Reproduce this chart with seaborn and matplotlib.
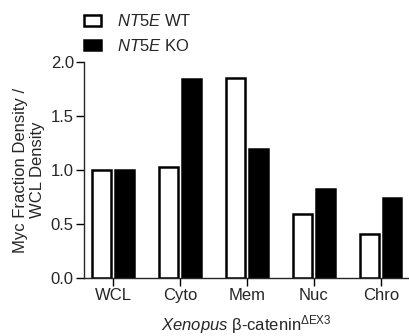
import matplotlib
matplotlib.use("Agg")
import matplotlib.pyplot as plt
import seaborn as sns
import pandas as pd

categories = ["WCL", "Cyto", "Mem", "Nuc", "Chro"]
wt_values = [1.00, 1.03, 1.85, 0.59, 0.41]
ko_values = [1.00, 1.84, 1.19, 0.82, 0.74]
series_labels = ["WT", "KO"]
legend_labels = [r"$\mathit{NT5E}$ WT", r"$\mathit{NT5E}$ KO"]
y_ticks = [0.0, 0.5, 1.0, 1.5, 2.0]

sns.set_style("ticks")
plt.rcParams["font.family"] = ["Liberation Sans", "DejaVu Sans"]
plt.rcParams["mathtext.fontset"] = "custom"
plt.rcParams["mathtext.it"] = "Liberation Sans:italic"
plt.rcParams["mathtext.rm"] = "Liberation Sans"

df = pd.DataFrame({
    "cat": categories * 2,
    "val": wt_values + ko_values,
    "grp": [series_labels[0]] * 5 + [series_labels[1]] * 5,
})

fs = 12
fig = plt.figure(figsize=(4.09, 3.36), dpi=100)
ax = fig.add_axes([0.206, 0.1726, 0.794, 0.6429])
sns.barplot(data=df, x="cat", y="val", hue="grp", order=categories,
            hue_order=series_labels, palette=["white", "black"],
            edgecolor="black", linewidth=1.8, width=0.68, gap=0.19, ax=ax)

ax.set_xlim(-0.43, 4.42)
ax.set_ylim(0, 2.0)
ax.set_yticks(y_ticks)
ax.set_yticklabels([f"{t:.1f}" for t in y_ticks])
ax.tick_params(axis="both", labelsize=fs, length=5.5, width=1, color="black", pad=2)
for s in ["top", "right"]:
    ax.spines[s].set_visible(False)
ax.spines["left"].set_linewidth(1)
ax.spines["bottom"].set_linewidth(1)
ax.set_ylabel("Myc Fraction Density /\nWCL Density", fontsize=fs, labelpad=4)
ax.set_xlabel(r"$\mathit{Xenopus}$ β-catenin$^{\mathrm{ΔEX3}}$", fontsize=fs, labelpad=7)

handles, _ = ax.get_legend_handles_labels()
ax.legend(handles, legend_labels, loc="upper left", bbox_to_anchor=(0.189, 0.98),
          bbox_transform=fig.transFigure, frameon=False, fontsize=fs,
          handlelength=1.0, handleheight=0.55, labelspacing=0.5, handletextpad=1.0,
          borderaxespad=0)

fig.savefig("out.png", dpi=100)
